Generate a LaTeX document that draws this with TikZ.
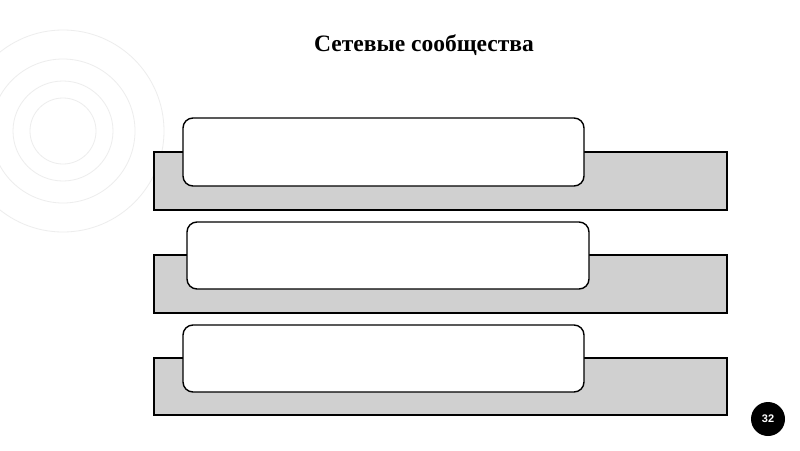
\documentclass[tikz,border=0pt]{standalone}
\usepackage{fontspec}
\setmainfont{Liberation Serif}
\newfontfamily\badgefont{Liberation Sans}
\definecolor{bargray}{HTML}{D0D0D0}
\definecolor{ringgray}{HTML}{EDEDED}
\begin{document}
\begin{tikzpicture}[x=1pt,y=-1pt,
  ring/.style={draw=ringgray,line width=0.8pt},
  bar/.style={draw=black,fill=bargray,line width=1.4pt},
  card/.style={draw=black,fill=white,line width=1.4pt,rounded corners=10pt}]
\useasboundingbox[fill=white] (0,0) rectangle (800,450);
% decorative rings
\foreach \r in {33,50,72,101} \draw[ring] (63,131) circle (\r);
% title
\node[font=\bfseries\fontsize{23.5}{26}\selectfont] (title) at (424,45) {Сетевые сообщества};
% rows
\draw[bar] (154,152) rectangle (727,210);
\draw[card] (183,118) rectangle (584,186);
\draw[bar] (154,255) rectangle (727,313);
\draw[card] (187,222) rectangle (589,289);
\draw[bar] (154,358) rectangle (727,415);
\draw[card] (183,325) rectangle (584,392);
% page badge
\fill[black] (768,419) circle (17);
\node[text=white,font=\badgefont\bfseries\fontsize{11}{12}\selectfont] (pg) at (768,419) {32};
\end{tikzpicture}
\end{document}
